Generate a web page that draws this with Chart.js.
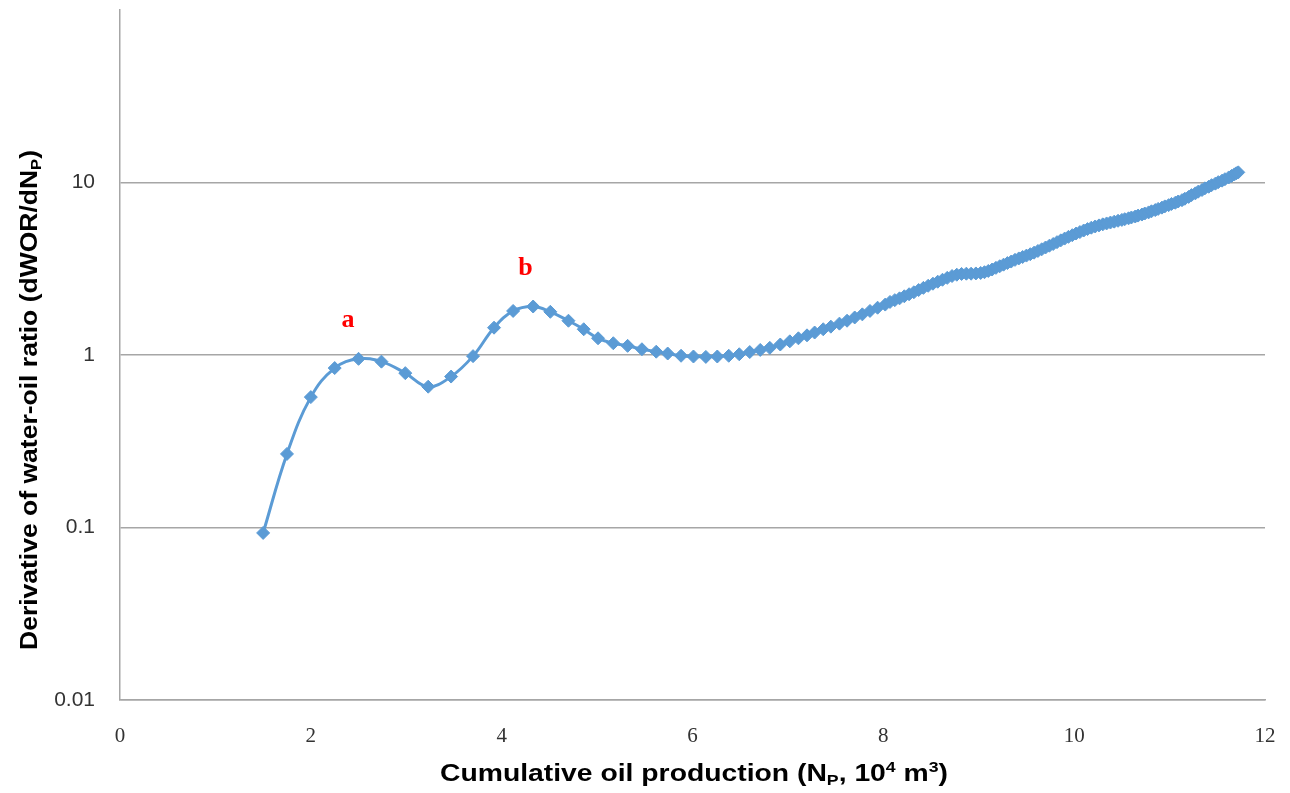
<!DOCTYPE html>
<html>
<head>
<meta charset="utf-8">
<script src="https://cdn.jsdelivr.net/npm/chart.js@4.4.1/dist/chart.umd.min.js"></script>
<style>
    html, body { margin: 0; padding: 0; background: #fff; }
</style>
</head>
<body>
<canvas id="wor-chart" width="1290" height="793"></canvas>
<script>
    // cumulative oil production Np (10^4 m3)
    var npValues = [
        1.50, 1.75, 2.00, 2.25, 2.50, 2.74, 2.99, 3.23, 3.47, 3.70, 3.92, 4.12, 4.33, 4.51, 4.70, 4.86, 5.01, 5.17,
        5.32, 5.47, 5.62, 5.74, 5.88, 6.01, 6.14, 6.26, 6.38, 6.49, 6.60, 6.71, 6.81, 6.92, 7.02, 7.11,
        7.20, 7.28, 7.37, 7.45, 7.54, 7.62, 7.70, 7.78, 7.86, 7.94, 8.02,
        8.07, 8.12, 8.17, 8.22, 8.27, 8.32, 8.37, 8.42, 8.47, 8.52, 8.57, 8.62, 8.67, 8.72, 8.77, 8.82, 8.87, 8.92, 8.97, 9.02,
        9.06, 9.10, 9.14, 9.18, 9.22, 9.26, 9.30, 9.34, 9.38, 9.42, 9.46, 9.50, 9.54,
        9.58, 9.62, 9.66, 9.70, 9.74, 9.78, 9.82, 9.86, 9.90, 9.94, 9.98, 10.02, 10.06,
        10.10, 10.14, 10.18, 10.22, 10.26, 10.30, 10.34, 10.38, 10.42, 10.46,
        10.50, 10.53, 10.57, 10.60, 10.64, 10.67, 10.71, 10.74, 10.78, 10.81, 10.85, 10.88, 10.92, 10.95, 10.99,
        11.02, 11.06, 11.09, 11.13, 11.16, 11.20, 11.23, 11.27, 11.30, 11.34, 11.37, 11.41, 11.44, 11.48, 11.51,
        11.55, 11.58, 11.62, 11.65, 11.68, 11.70, 11.72
    ];

    // derivative of water-oil ratio dWOR/dNp
    var dworValues = [
        0.093, 0.267, 0.57, 0.84, 0.95, 0.915, 0.785, 0.655, 0.75, 0.985, 1.44, 1.80, 1.91, 1.78, 1.58, 1.41, 1.25, 1.17,
        1.13, 1.08, 1.045, 1.02, 0.99, 0.98, 0.975, 0.98, 0.99, 1.01, 1.04, 1.07, 1.10, 1.15, 1.20, 1.25,
        1.30, 1.35, 1.41, 1.46, 1.52, 1.58, 1.65, 1.72, 1.80, 1.88, 1.96,
        2.03, 2.08, 2.13, 2.19, 2.25, 2.31, 2.38, 2.45, 2.52, 2.59, 2.66, 2.73, 2.80, 2.87, 2.92, 2.95, 2.96, 2.96, 2.97, 2.99,
        3.02, 3.07, 3.13, 3.20, 3.27, 3.34, 3.41, 3.48, 3.56, 3.63, 3.70, 3.77, 3.84,
        3.92, 4.01, 4.10, 4.20, 4.30, 4.40, 4.51, 4.62, 4.73, 4.84, 4.95, 5.06, 5.16,
        5.27, 5.37, 5.47, 5.56, 5.64, 5.72, 5.79, 5.86, 5.93, 6.00,
        6.07, 6.13, 6.20, 6.27, 6.35, 6.43, 6.52, 6.61, 6.71, 6.81, 6.92, 7.03, 7.15, 7.27, 7.39,
        7.51, 7.63, 7.76, 7.90, 8.05, 8.25, 8.45, 8.65, 8.85, 9.05, 9.25, 9.45, 9.65, 9.85, 10.05,
        10.25, 10.45, 10.70, 10.92, 11.15, 11.32, 11.45
    ];

    var xTicks = [0, 2, 4, 6, 8, 10, 12];
    var yTicks = [0.01, 0.1, 1, 10];

    // red letters marking the two humps
    var markLabels = ["a", "b"];
    var markX = [2.39, 4.25];
    var markY = [1.6, 3.2];

    var lineColor = "#5b9bd5";
    var gridColor = "#a6a6a6";

    // text with sub/superscript pieces, squeezed to a given width
    function drawRich(ctx, parts, size, targetW) {
        var big = "bold " + size + "px 'Liberation Sans', Arial, sans-serif";
        var small = "bold " + Math.round(size * 0.62) + "px 'Liberation Sans', Arial, sans-serif";
        var total = 0;
        parts.forEach(function (p) {
            ctx.font = p.s ? small : big;
            total += ctx.measureText(p.t).width;
        });
        var k = targetW ? targetW / total : 1;
        ctx.scale(k, 1);
        var x = -total / 2;
        ctx.textBaseline = "alphabetic";
        ctx.fillStyle = "#000";
        parts.forEach(function (p) {
            ctx.font = p.s ? small : big;
            var dy = p.s === "sub" ? size * 0.2 : (p.s === "sup" ? -size * 0.38 : 0);
            ctx.fillText(p.t, x, size * 0.36 + dy);
            x += ctx.measureText(p.t).width;
        });
    }

    var titlesPlugin = {
        id: "titles",
        afterDraw: function (chart) {
            var ctx = chart.ctx;

            ctx.save();
            ctx.translate(694, 772);
            drawRich(ctx, [
                {t: "Cumulative oil production (N"}, {t: "P", s: "sub"},
                {t: ", 10"}, {t: "4", s: "sup"}, {t: " m"}, {t: "3", s: "sup"}, {t: ")"}
            ], 24, 508);
            ctx.restore();

            ctx.save();
            ctx.translate(28, 400);
            ctx.rotate(-Math.PI / 2);
            drawRich(ctx, [
                {t: "Derivative of water-oil ratio (dWOR/dN"}, {t: "P", s: "sub"}, {t: ")"}
            ], 24, 500);
            ctx.restore();

            // a / b markers
            var xs = chart.scales.x, ys = chart.scales.y;
            ctx.save();
            ctx.font = "bold 26px 'Liberation Serif', 'Times New Roman', serif";
            ctx.fillStyle = "#ff0000";
            ctx.textAlign = "center";
            ctx.textBaseline = "middle";
            for (var i = 0; i < markLabels.length; i++) {
                ctx.fillText(markLabels[i], xs.getPixelForValue(markX[i]), ys.getPixelForValue(markY[i]));
            }
            ctx.restore();
        }
    };

    var points = npValues.map(function (v, i) {
        return {x: v, y: dworValues[i]};
    });

    var ctx1 = document.getElementById("wor-chart").getContext("2d");
    var myChart1 = new Chart(ctx1, {
        type: "line",
        data: {
            datasets: [{
                data: points,
                borderColor: lineColor,
                backgroundColor: lineColor,
                borderWidth: 3,
                tension: 0.4,
                pointStyle: "rectRot",
                pointRadius: 6.5,
                pointBorderWidth: 1,
                pointBorderColor: lineColor,
                pointBackgroundColor: lineColor,
                fill: false
            }]
        },
        options: {
            responsive: false,
            devicePixelRatio: 1,
            animation: false,
            layout: {
                padding: {top: 10, right: 25, left: 0, bottom: 0}
            },
            plugins: {
                legend: {display: false},
                tooltip: {enabled: false}
            },
            scales: {
                x: {
                    type: "linear",
                    min: 0,
                    max: 12,
                    afterBuildTicks: function (scale) {
                        scale.ticks = xTicks.map(function (v) { return {value: v}; });
                    },
                    afterFit: function (scale) {
                        scale.height = 93;
                    },
                    // invisible tick marks keep the labels off the axis
                    grid: {color: "rgba(0,0,0,0)", tickColor: "rgba(0,0,0,0)", drawTicks: true, tickLength: 26},
                    border: {display: true, color: gridColor, width: 1.5},
                    ticks: {
                        padding: 0,
                        color: "#333333",
                        font: {family: "'Liberation Serif', 'Times New Roman', serif", size: 21, lineHeight: 1},
                        maxRotation: 0
                    }
                },
                y: {
                    type: "logarithmic",
                    min: 0.01,
                    max: 100,
                    afterBuildTicks: function (scale) {
                        scale.ticks = yTicks.map(function (v) { return {value: v}; });
                    },
                    afterFit: function (scale) {
                        scale.width = 120;
                    },
                    grid: {color: gridColor, lineWidth: 1.5, tickColor: "rgba(0,0,0,0)", drawTicks: true, tickLength: 25},
                    border: {display: true, color: gridColor, width: 1.5},
                    ticks: {
                        padding: 0,
                        color: "#333333",
                        font: {family: "'Liberation Sans', Arial, sans-serif", size: 21, lineHeight: 0.9},
                        callback: function (value) {
                            return String(value);
                        }
                    }
                }
            }
        },
        plugins: [titlesPlugin]
    });
</script>
</body>
</html>
